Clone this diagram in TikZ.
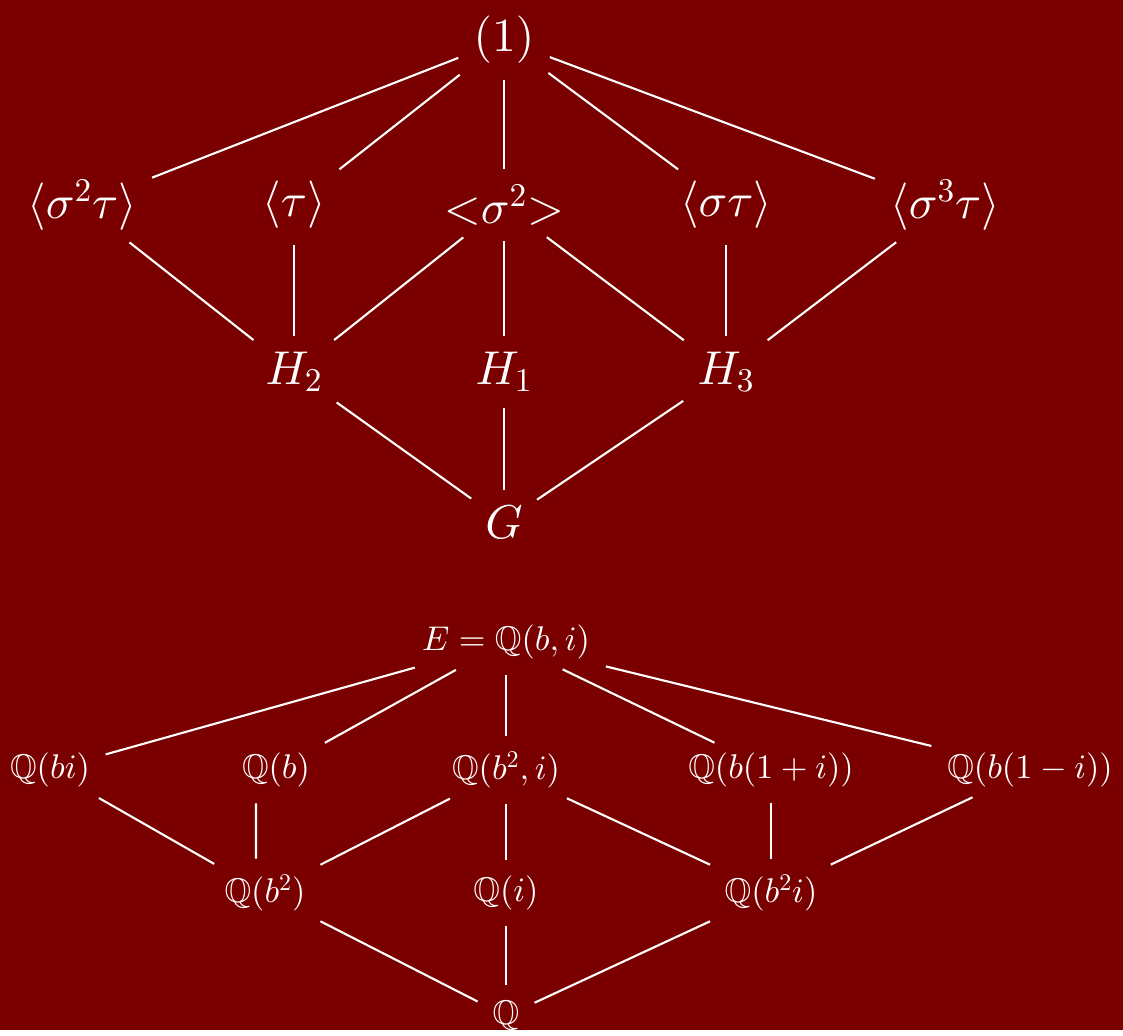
\documentclass[tikz,border=0pt]{standalone}
\usepackage{amssymb}
% scalable math fonts
\DeclareFontShape{OML}{cmm}{m}{it}{<-> cmmi10}{}
\DeclareFontShape{OMS}{cmsy}{m}{n}{<-> cmsy10}{}
\DeclareFontShape{OT1}{cmr}{m}{n}{<-> cmr10}{}
\DeclareFontShape{OMX}{cmex}{m}{n}{<-> cmex10}{}
\DeclareFontFamily{U}{msb}{}
\DeclareFontShape{U}{msb}{m}{n}{<-> msbm10}{}
\definecolor{galoisred}{RGB}{122,0,0}
\tikzset{
  grp/.style={text=white, font=\fontsize{27}{32}\selectfont, inner sep=3pt},
  fld/.style={text=white, font=\fontsize{19.5}{23}\selectfont, inner sep=3pt},
  link/.style={draw=white, line width=1.2pt, shorten <=6pt, shorten >=6pt}
}
\begin{document}
\begin{tikzpicture}[x=0.02cm, y=-0.02cm]
  \fill[galoisred] (0,0) rectangle (1123,1030);

  % subgroups
  \node[grp] (one) at (504,40) {$(1)$};

  \node[grp] (s2t) at (82,205) {$\langle\sigma^2\tau\rangle$};
  \node[grp] (t) at (294,205) {$\langle\tau\rangle$};
  \node[grp] (s2) at (504,205) {$\mathord{<}\sigma^2\mathord{>}$};
  \node[grp] (st) at (726,205) {$\langle\sigma\tau\rangle$};
  \node[grp] (s3t) at (945,205) {$\langle\sigma^3\tau\rangle$};

  \node[grp] (h2) at (294,372) {$H_2$};
  \node[grp] (h1) at (504,372) {$H_1$};
  \node[grp] (h3) at (726,372) {$H_3$};

  \node[grp] (g) at (504,522) {$G$};

  \draw[link] (one) -- (s2t);
  \draw[link] (one) -- (t);
  \draw[link] (one) -- (s2);
  \draw[link] (one) -- (st);
  \draw[link] (one) -- (s3t);
  \draw[link] (s2t) -- (h2);
  \draw[link] (t) -- (h2);
  \draw[link] (s2) -- (h2);
  \draw[link] (s2) -- (h1);
  \draw[link] (s2) -- (h3);
  \draw[link] (st) -- (h3);
  \draw[link] (s3t) -- (h3);
  \draw[link] (h2) -- (g);
  \draw[link] (h1) -- (g);
  \draw[link] (h3) -- (g);

  % intermediate fields
  \node[fld] (e) at (506,642) {$E=\mathbb{Q}(b,i)$};

  \node[fld] (qbi) at (50,770) {$\mathbb{Q}(bi)$};
  \node[fld] (qb) at (276,770) {$\mathbb{Q}(b)$};
  \node[fld] (qbsqi) at (506,770) {$\mathbb{Q}(b^2,i)$};
  \node[fld] (qbp) at (771,770) {$\mathbb{Q}(b(1+i))$};
  \node[fld] (qbm) at (1030,770) {$\mathbb{Q}(b(1-i))$};

  \node[fld] (qbsq) at (265,893) {$\mathbb{Q}(b^2)$};
  \node[fld] (qi) at (506,893) {$\mathbb{Q}(i)$};
  \node[fld] (qbsqti) at (771,893) {$\mathbb{Q}(b^2i)$};

  \node[fld] (q) at (506,1016) {$\mathbb{Q}$};

  \draw[link] (e) -- (qbi);
  \draw[link] (e) -- (qb);
  \draw[link] (e) -- (qbsqi);
  \draw[link] (e) -- (qbp);
  \draw[link] (e) -- (qbm);
  \draw[link] (qbi) -- (qbsq);
  \draw[link] ([xshift=-0.4cm]qb.south) -- ([xshift=-0.18cm]qbsq.north);
  \draw[link] (qbsqi) -- (qbsq);
  \draw[link] (qbsqi) -- (qi);
  \draw[link] (qbsqi) -- (qbsqti);
  \draw[link] (qbp) -- (qbsqti);
  \draw[link] (qbm) -- (qbsqti);
  \draw[link] (qbsq) -- (q);
  \draw[link] (qi) -- (q);
  \draw[link] (qbsqti) -- (q);
\end{tikzpicture}
\end{document}
